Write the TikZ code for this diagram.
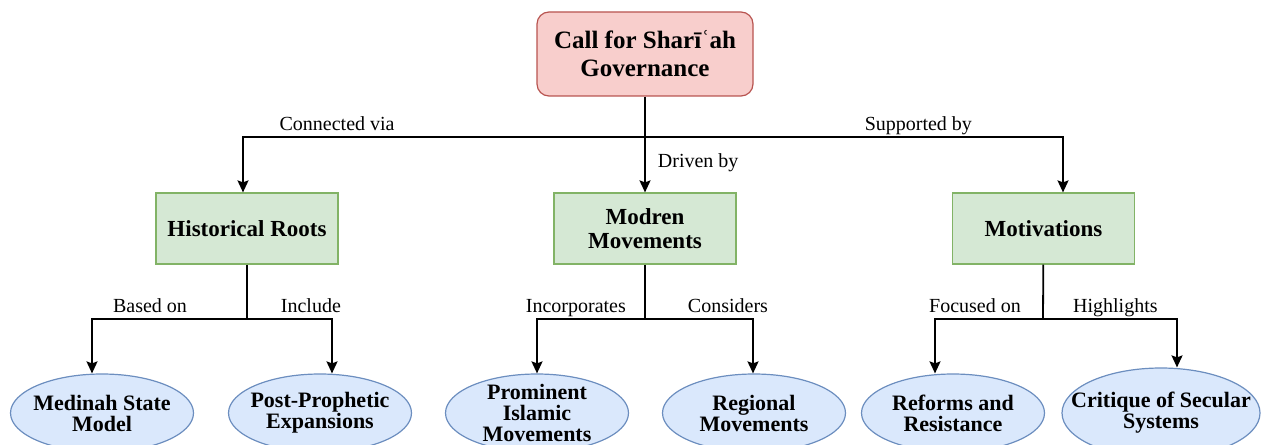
\documentclass[tikz,border=0pt]{standalone}
\usepackage{fontspec}
\setmainfont{Liberation Serif}
\usetikzlibrary{shapes.geometric,arrows.meta}

\definecolor{rootFill}{HTML}{F8CECC}
\definecolor{rootLine}{HTML}{B85450}
\definecolor{branchFill}{HTML}{D5E8D4}
\definecolor{branchLine}{HTML}{82B366}
\definecolor{leafFill}{HTML}{DAE8FC}
\definecolor{leafLine}{HTML}{6C8EBF}

\begin{document}
\begin{tikzpicture}
[x=0.5pt,y=-0.5pt,
  arrowDecorate/.style={->,>={Stealth[length=6pt,width=5.5pt,inset=1pt]},line width=0.9pt},%
  lineDecorate/.style={line width=0.9pt},%
  rootDecorate/.style={shape=rectangle,rounded corners=6pt,draw=rootLine,fill=rootFill,line width=0.6pt,
    minimum width=108pt,minimum height=42pt,align=center,font=\fontsize{12.5}{14}\selectfont\bfseries},%
  branchDecorate/.style={shape=rectangle,draw=branchLine,fill=branchFill,line width=0.6pt,
    minimum width=91pt,minimum height=35.5pt,align=center,font=\fontsize{11.5}{12}\selectfont\bfseries},%
  leafDecorate/.style={shape=ellipse,draw=leafLine,fill=leafFill,line width=0.6pt,inner xsep=-8pt,inner ysep=-4pt,
    minimum width=91.5pt,minimum height=39pt,align=center,font=\fontsize{11}{10.5}\selectfont\bfseries},%
  labelDecorate/.style={font=\fontsize{10}{12}\selectfont,inner xsep=2pt,inner ysep=1pt,text height=7pt,text depth=2pt}]
\clip (0,0) rectangle (1262,444);
%% nodes or vertices
\node (call) at (645,54) [rootDecorate] {Call for Sharīʿah\\Governance};
\foreach \nodename/\x/\nodetext in {
  hist/247/Historical Roots, modren/645/{Modren\\Movements}, motiv/1043.5/Motivations}
{
  \node (\nodename) at (\x,228.5) [branchDecorate] {\nodetext};
}
\foreach \nodename/\x/\nodetext in {
  med/102/{Medinah State\\Model}, post/320/{Post-Prophetic\\Expansions},
  prom/537/{Prominent\\Islamic\\Movements}, reg/754/{Regional\\Movements},
  ref/953/{Reforms and\\Resistance}}
{
  \node (\nodename) at (\x,413) [leafDecorate] {\nodetext};
}
\node (crit) at (1161,413) [leafDecorate,inner xsep=-10pt,minimum width=99pt,minimum height=45pt] {Critique of Secular\\Systems};
%% junctions
\coordinate (callj) at (645,137);
\coordinate (histj) at (247,319);
\coordinate (modrenj) at (645,319);
\coordinate (motivj) at (1043,319);
%% edges or lines
\draw[arrowDecorate] (call) -- node[labelDecorate,right,xshift=4pt,pos=0.69] {Driven by} (modren);
\foreach \startnode/\endnode/\shift/\where/\edgetext in {
  callj/hist/-2pt/0.383/Connected via, callj/motiv/9.75pt/0.327/Supported by,
  histj/med/-5pt/0.313/Based on, histj/post/6pt/0.376/Include,
  modrenj/prom/0pt/0.32/Incorporates, modrenj/reg/-0.5pt/0.384/Considers,
  motivj/ref/-9pt/0.315/Focused on, motivj/crit/8pt/0.27/Highlights}
{
  \draw[arrowDecorate] (\startnode) -| node[labelDecorate,above,pos=\where] {\edgetext}
    ([xshift=\shift]\endnode.north);
}
\foreach \startnode/\endnode in {hist/histj, modren/modrenj, motiv/motivj}
{
  \draw[lineDecorate] (\startnode) -- (\endnode);
}
\end{tikzpicture}
\end{document}
